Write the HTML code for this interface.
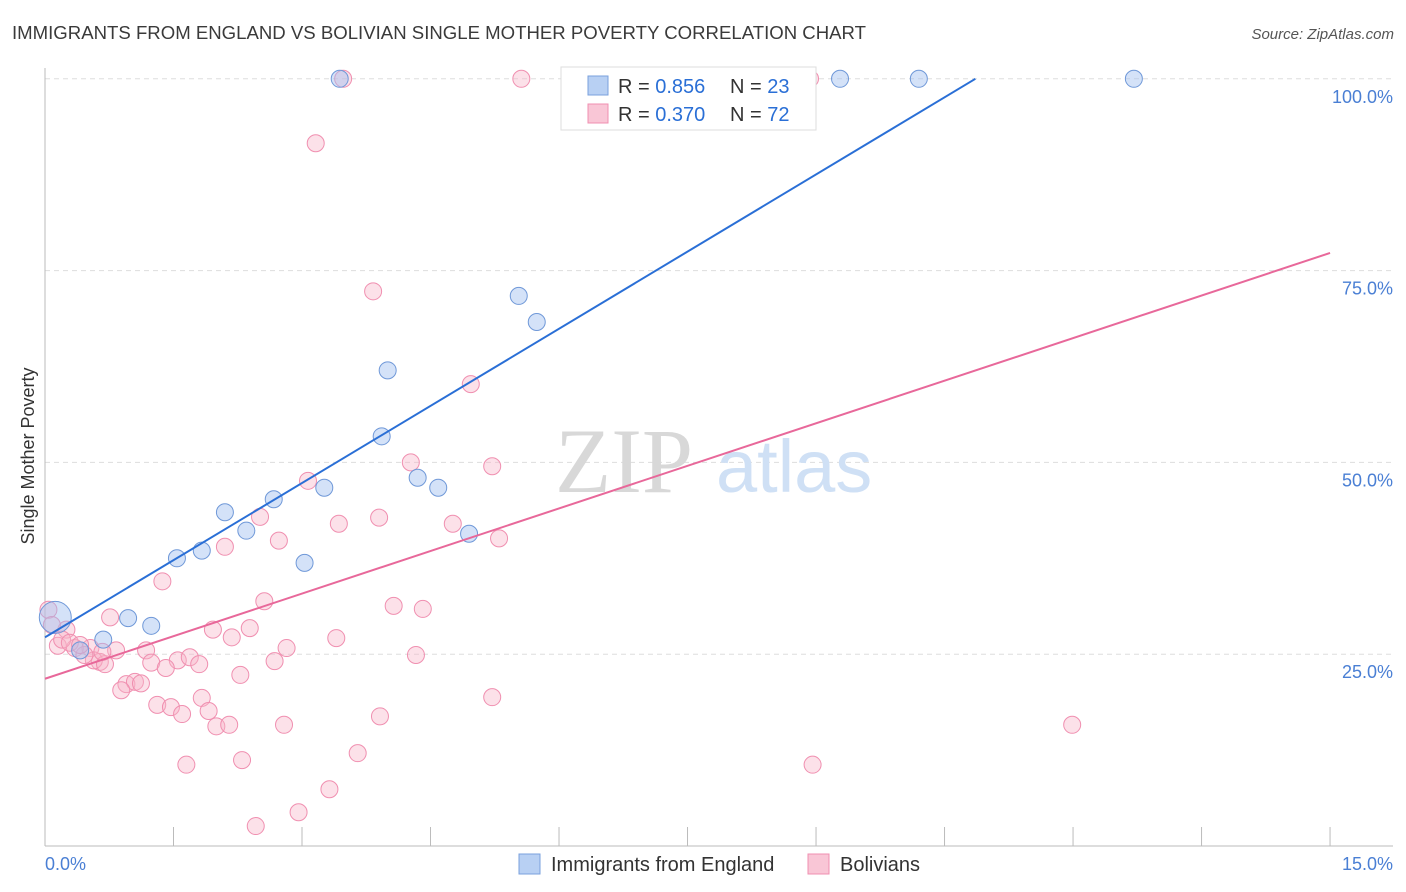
<!DOCTYPE html>
<html><head><meta charset="utf-8"><style>
body{margin:0;background:#fff;font-family:"Liberation Sans",sans-serif;}
svg{display:block}
</style></head><body>
<svg id="chart" width="1406" height="892">
<text x="12" y="39" font-size="18" fill="#3a3a3a" textLength="854" lengthAdjust="spacingAndGlyphs">IMMIGRANTS FROM ENGLAND VS BOLIVIAN SINGLE MOTHER POVERTY CORRELATION CHART</text>
<text x="1394" y="39" font-size="15" fill="#555" font-style="italic" text-anchor="end">Source: ZipAtlas.com</text>
<g id="grid"></g>
<g>
<text x="555" y="492" font-size="92" font-family="Liberation Serif,serif" fill="#d8d8d8">ZIP</text>
<text x="716" y="492" font-size="74" fill="#cfe0f5">atlas</text>
</g>
<line x1="45" y1="68" x2="45" y2="846" stroke="#bbb"/>
<line x1="45" y1="846" x2="1393" y2="846" stroke="#bbb"/>
<g id="xticks"></g>
<text x="34" y="456" font-size="18" fill="#333" transform="rotate(-90 34 456)" text-anchor="middle">Single Mother Poverty</text>
<text x="45" y="870" font-size="18" fill="#4a7fd4">0.0%</text>
<text x="1393" y="870" font-size="18" fill="#4a7fd4" text-anchor="end">15.0%</text>
<g id="ylabels"></g>
<g id="pinkpts"></g>
<g id="bluepts"></g>
<g id="lines"></g>
<g>
<rect x="561" y="67" width="255" height="63" fill="#fff" stroke="#ddd"/>
<rect x="588" y="76" width="20" height="19" fill="#b8d0f3" stroke="#7aa0dc"/>
<rect x="588" y="104" width="20" height="19" fill="#f9c6d6" stroke="#f08fb0"/>
<text x="618" y="93" font-size="20" fill="#333">R = <tspan fill="#2a6fd6">0.856</tspan><tspan x="730">N = </tspan><tspan fill="#2a6fd6">23</tspan></text>
<text x="618" y="121" font-size="20" fill="#333">R = <tspan fill="#2a6fd6">0.370</tspan><tspan x="730">N = </tspan><tspan fill="#2a6fd6">72</tspan></text>
</g>
<g>
<rect x="519" y="854" width="21" height="20" fill="#b8d0f3" stroke="#7aa0dc"/>
<text x="551" y="871" font-size="20" fill="#333">Immigrants from England</text>
<rect x="808" y="854" width="21" height="20" fill="#f9c6d6" stroke="#f08fb0"/>
<text x="840" y="871" font-size="20" fill="#333">Bolivians</text>
</g>
</svg>
<script>
const blueX=[3.44,9.28,10.20,12.71,5.53,5.74,4.00,3.93,4.35,4.59,3.26,2.67,2.10,2.35,4.95,1.83,1.54,3.03,1.24,0.97,0.68,0.41,0.12];
const blueY=[100,100,100,100,71.7,68.3,62.0,53.4,48.0,46.7,46.7,45.2,43.5,41.1,40.7,38.5,37.5,36.9,28.7,29.7,26.9,25.5,29.8];
const pinkX=[3.48,5.56,8.93,3.16,3.83,4.97,4.27,5.22,3.07,2.51,3.43,3.90,4.76,5.30,2.10,2.73,1.37,2.56,4.07,4.41,0.76,1.96,2.18,2.39,3.40,2.82,4.33,0.25,0.15,0.35,0.53,0.83,1.18,0.64,0.57,0.70,1.24,1.55,1.69,1.80,1.41,2.68,2.28,0.95,1.05,1.12,0.89,1.83,5.22,1.31,1.47,1.91,1.60,2.00,2.15,2.79,3.91,11.99,3.65,1.65,2.30,8.96,3.32,2.96,2.46,0.04,0.08,0.20,0.46,0.29,0.67,0.41];
const pinkY=[100,100,100,91.6,72.3,60.2,50.0,49.5,47.6,42.9,42.0,42.8,42.0,40.1,39.0,39.8,34.5,31.9,31.3,30.9,29.8,28.2,27.2,28.4,27.1,25.8,24.9,28.2,26.1,25.8,25.8,25.5,25.5,24.0,24.2,23.7,23.9,24.2,24.6,23.7,23.2,24.1,22.3,21.1,21.4,21.2,20.3,19.3,19.4,18.4,18.1,17.6,17.2,15.6,15.8,15.8,16.9,15.8,12.1,10.6,11.2,10.6,7.4,4.4,2.6,30.8,28.8,26.9,24.9,26.5,25.3,26.2];
const blueTrend=[[0,27.2],[10.86,100]];
const pinkTrend=[[0,21.8],[15,77.3]];
const yTicks=[25,50,75,100];
const yTickLabels=["25.0%","50.0%","75.0%","100.0%"];
const xTicks=[0,1.5,3,4.5,6,7.5,9,10.5,12,13.5,15];
const NS="http://www.w3.org/2000/svg";
const sx=v=>45+v*85.67, sy=v=>846-v*7.672;
function mk(tag,attrs,parent){const e=document.createElementNS(NS,tag);for(const k in attrs)e.setAttribute(k,attrs[k]);parent.appendChild(e);return e;}
const grid=document.getElementById('grid'),yl=document.getElementById('ylabels'),xt=document.getElementById('xticks');
yTicks.forEach((t,i)=>{
 const l=mk('line',{x1:45,x2:1393,y1:sy(t),y2:sy(t),stroke:'#ddd','stroke-dasharray':'5,4'},grid);
 
 
 const tx=mk('text',{x:1393,y:sy(t)+24,'font-size':18,fill:'#4a7fd4','text-anchor':'end'},yl);
 tx.textContent=yTickLabels[i];
 
 
});
xTicks.forEach(t=>{
 const l=mk('line',{x1:sx(t),x2:sx(t),y1:827,y2:846,stroke:'#bbb'},xt);
 
 
});
const pp=document.getElementById('pinkpts');
pinkX.forEach((x,i)=>{
 const c=mk('circle',{cx:sx(x),cy:sy(pinkY[i]),r:8.5,fill:'rgba(248,180,200,0.4)',stroke:'#f08fb0','stroke-width':1},pp);
 
 
});
const bp=document.getElementById('bluepts');
blueX.forEach((x,i)=>{
 const big=i===blueX.length-1;
 const c=mk('circle',{cx:sx(x),cy:sy(blueY[i]),r:big?16:8.5,fill:'rgba(160,190,240,0.45)',stroke:'#6f98d8','stroke-width':1},bp);
 
 
});
const lg=document.getElementById('lines');
const b=mk('line',{x1:sx(blueTrend[0][0]),y1:sy(blueTrend[0][1]),x2:sx(blueTrend[1][0]),y2:sy(blueTrend[1][1]),stroke:'#2a6fd6','stroke-width':2},lg);


const p=mk('line',{x1:sx(pinkTrend[0][0]),y1:sy(pinkTrend[0][1]),x2:sx(pinkTrend[1][0]),y2:sy(pinkTrend[1][1]),stroke:'#e8689a','stroke-width':2},lg);


</script>
</body></html>
